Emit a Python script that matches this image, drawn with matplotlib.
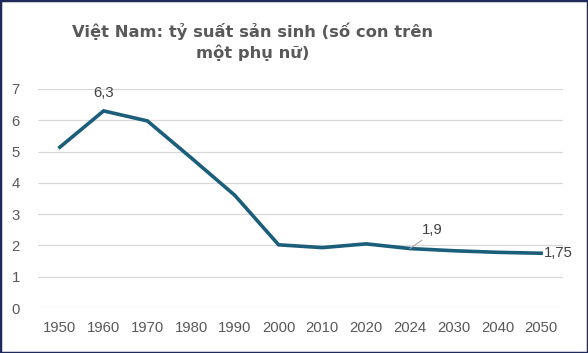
import matplotlib.pyplot as plt
from matplotlib.patches import Rectangle

years = ['1950', '1960', '1970', '1980', '1990', '2000', '2010', '2020', '2024', '2030', '2040', '2050']
fertility = [5.14, 6.3, 5.98, 4.8, 3.6, 2.02, 1.93, 2.05, 1.9, 1.83, 1.78, 1.75]
y_ticks = [0, 1, 2, 3, 4, 5, 6, 7]

line_color = '#1B5E7B'
text_color = '#595959'

fig = plt.figure(figsize=(5.88, 3.53), dpi=100)
ax = fig.add_axes([38 / 588, 1 - 308 / 353, (563 - 38) / 588, (308 - 89) / 353])

x = list(range(len(years)))
ax.plot(x, fertility, color=line_color, linewidth=2.6, solid_joinstyle='miter')

ax.set_xlim(-0.5, len(years) - 0.5)
ax.set_ylim(0, 7)
ax.set_xticks(x)
ax.set_xticklabels(years)
ax.set_yticks(y_ticks)
ax.grid(axis='y', color='#D9D9D9', linewidth=0.9)
ax.set_axisbelow(True)
for s in ax.spines.values():
    s.set_visible(False)
ax.tick_params(length=0, labelsize=10.7, labelcolor=text_color, pad=9)
ax.tick_params(axis='y', pad=13)
for lab in ax.get_xticklabels() + ax.get_yticklabels():
    lab.set_fontfamily('Liberation Sans')

# data labels
lab_font = dict(fontfamily='Liberation Sans', fontsize=10.7, color='#404040')
ax.annotate('6,3', (1, fertility[1]), xytext=(0, 8), textcoords='offset points',
            ha='center', va='bottom', **lab_font)
ax.annotate('1,9', (8, fertility[8]), xytext=(16, 8), textcoords='offset points',
            ha='center', va='bottom',
            arrowprops=dict(arrowstyle='-', color='#A6A6A6', linewidth=0.8,
                            shrinkA=0, shrinkB=0, relpos=(0.2, 0.0)),
            **lab_font)
ax.annotate('1,75', (11, fertility[11]), xytext=(2, 0), textcoords='offset points',
            ha='left', va='center', **lab_font)

fig.text(0.43, 0.882, 'Việt Nam: tỷ suất sản sinh (số con trên\nmột phụ nữ)',
         ha='center', va='center', fontsize=11.8, fontweight='bold',
         color=text_color, fontfamily='DejaVu Sans', linespacing=1.35)

fig.patches.append(Rectangle((0, 0), 1, 1, transform=fig.transFigure, fill=False,
                             edgecolor='#1F2A5A', linewidth=2.5))

fig.savefig('out.png', dpi=100)
